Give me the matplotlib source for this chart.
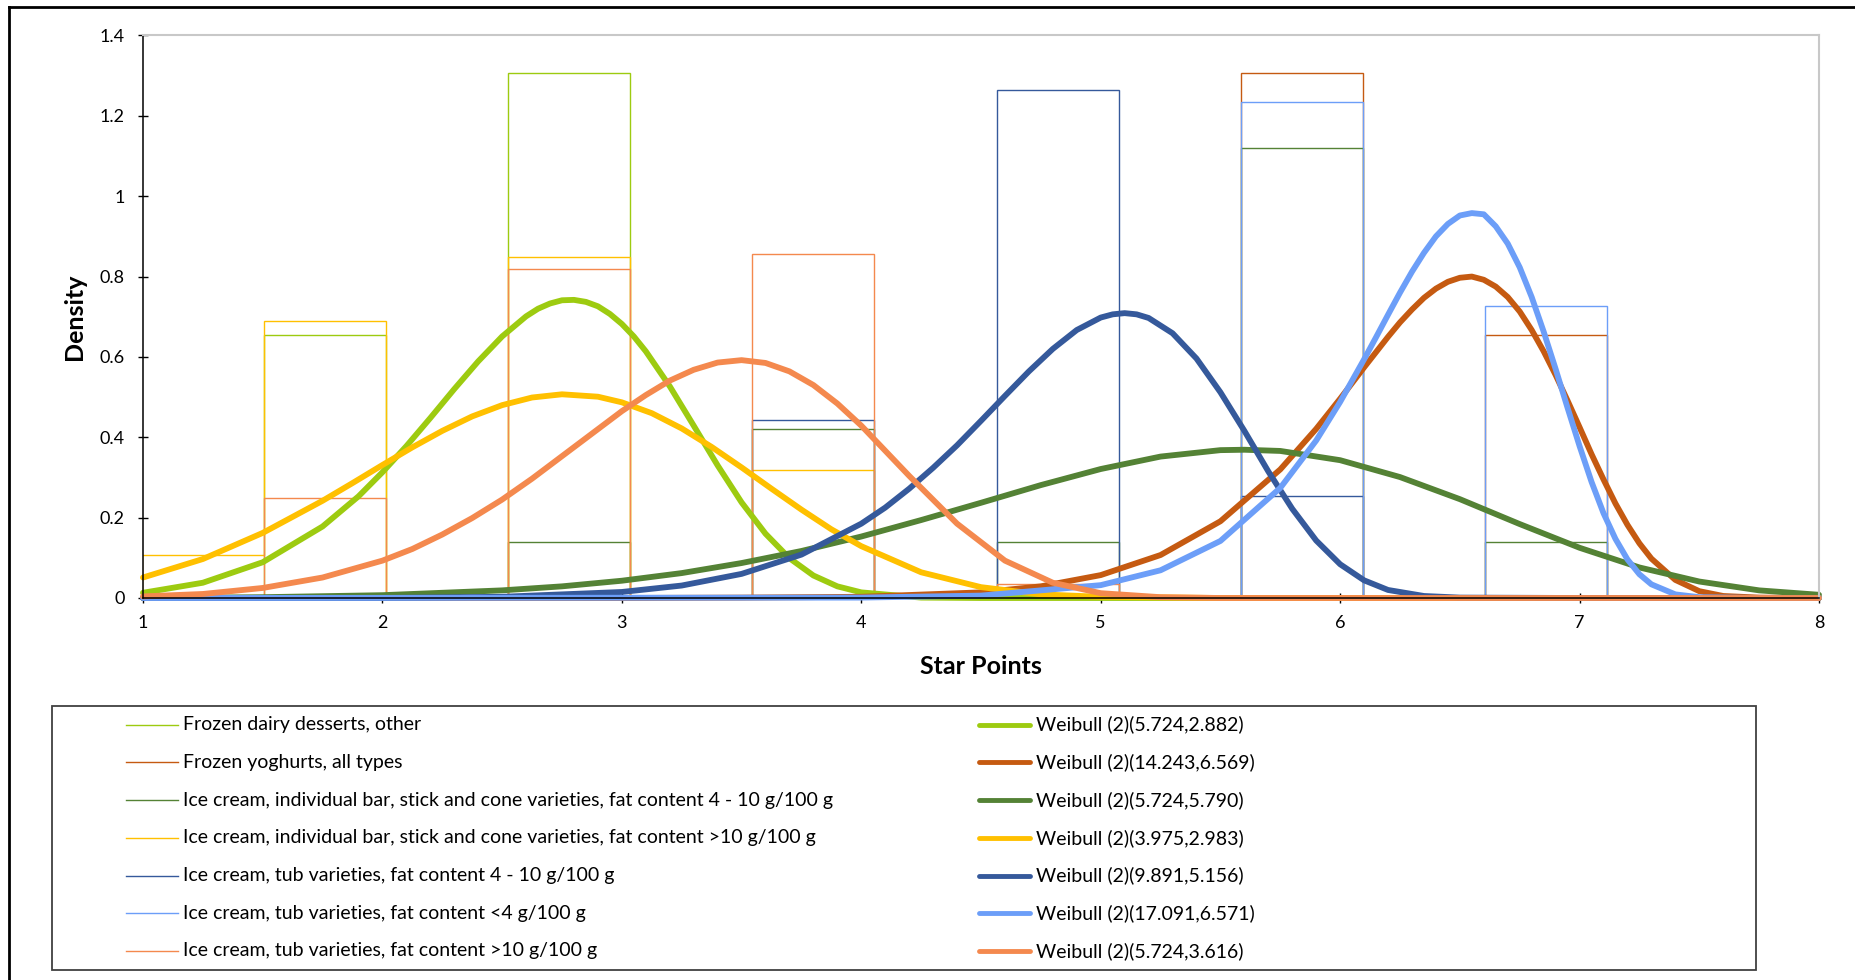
import matplotlib.pyplot as plt
from matplotlib.lines import Line2D
from matplotlib.patches import Rectangle

plt.rcParams['font.family'] = ['Lato', 'DejaVu Sans']

# histogram bins (star points), density per series
bin_edges = [0.995, 1.505, 2.015, 2.525, 3.035, 3.545, 4.055, 4.565, 5.075, 5.585, 6.095, 6.605, 7.115]

names = ['Frozen dairy desserts, other',
         'Frozen yoghurts, all types',
         'Ice cream, individual bar, stick and cone varieties, fat content 4 - 10 g/100 g',
         'Ice cream, individual bar, stick and cone varieties, fat content >10 g/100 g',
         'Ice cream, tub varieties, fat content 4 - 10 g/100 g',
         'Ice cream, tub varieties, fat content <4 g/100 g',
         'Ice cream, tub varieties, fat content >10 g/100 g']

fit_names = ['Weibull (2)(5.724,2.882)',
             'Weibull (2)(14.243,6.569)',
             'Weibull (2)(5.724,5.790)',
             'Weibull (2)(3.975,2.983)',
             'Weibull (2)(9.891,5.156)',
             'Weibull (2)(17.091,6.571)',
             'Weibull (2)(5.724,3.616)']

hist_dairy  = [0, 0.654, 0, 1.307, 0, 0, 0, 0, 0, 0, 0, 0]
hist_yog    = [0, 0, 0, 0, 0, 0, 0, 0, 0, 1.307, 0, 0.654]
hist_bar410 = [0, 0, 0, 0.140, 0, 0.420, 0, 0.140, 0, 1.120, 0, 0.140]
hist_bar10  = [0.106, 0.689, 0, 0.848, 0, 0.318, 0, 0, 0, 0, 0, 0]
hist_tub410 = [0, 0, 0, 0, 0, 0.443, 0, 1.265, 0, 0.253, 0, 0]
hist_tub4   = [0, 0, 0, 0, 0, 0, 0, 0, 0, 1.235, 0, 0.726]
hist_tub10  = [0, 0.250, 0, 0.820, 0, 0.856, 0, 0.036, 0, 0, 0, 0]

# fitted density curves
fx_dairy = [1.0, 1.25, 1.5, 1.75, 1.9, 2.0, 2.1, 2.2, 2.3, 2.4, 2.5, 2.6, 2.65, 2.7, 2.75, 2.8,
            2.85, 2.9, 2.95, 3.0, 3.05, 3.1, 3.2, 3.3, 3.4, 3.5, 3.6, 3.7, 3.8, 3.9, 4.0, 4.25,
            4.5, 5.0, 6.0, 7.0, 8.0]
fy_dairy = [0.013, 0.038, 0.089, 0.178, 0.253, 0.313, 0.378, 0.448, 0.520, 0.589, 0.651, 0.701,
            0.720, 0.733, 0.741, 0.742, 0.737, 0.726, 0.707, 0.682, 0.651, 0.614, 0.527, 0.429,
            0.330, 0.238, 0.160, 0.099, 0.056, 0.029, 0.014, 0.001, 0, 0, 0, 0, 0]

fx_yog = [1.0, 2.0, 3.0, 3.5, 4.0, 4.5, 4.75, 5.0, 5.25, 5.5, 5.75, 5.9, 6.0, 6.1, 6.2, 6.25,
          6.3, 6.35, 6.4, 6.45, 6.5, 6.55, 6.6, 6.65, 6.7, 6.75, 6.8, 6.85, 6.9, 6.95, 7.0,
          7.05, 7.1, 7.15, 7.2, 7.25, 7.3, 7.4, 7.5, 7.6, 7.75, 8.0]
fy_yog = [0, 0, 0, 0.001, 0.003, 0.014, 0.029, 0.057, 0.107, 0.191, 0.320, 0.421, 0.496, 0.574,
          0.650, 0.686, 0.718, 0.747, 0.770, 0.787, 0.797, 0.800, 0.792, 0.775, 0.749, 0.713,
          0.667, 0.614, 0.555, 0.491, 0.425, 0.358, 0.295, 0.235, 0.182, 0.136, 0.098, 0.045,
          0.017, 0.005, 0.001, 0]

fx_bar410 = [1.0, 1.5, 2.0, 2.5, 2.75, 3.0, 3.25, 3.5, 3.75, 4.0, 4.25, 4.5, 4.75, 5.0, 5.25,
             5.5, 5.6, 5.75, 6.0, 6.25, 6.5, 6.75, 7.0, 7.25, 7.5, 7.75, 8.0]
fy_bar410 = [0.000, 0.002, 0.007, 0.019, 0.029, 0.043, 0.062, 0.087, 0.117, 0.153, 0.194, 0.237,
             0.281, 0.321, 0.352, 0.368, 0.369, 0.366, 0.343, 0.301, 0.246, 0.184, 0.125, 0.076,
             0.041, 0.019, 0.008]

fx_bar10 = [1.0, 1.25, 1.5, 1.75, 1.875, 2.0, 2.125, 2.25, 2.375, 2.5, 2.625, 2.75, 2.9, 3.0,
            3.125, 3.25, 3.375, 3.5, 3.625, 3.75, 3.875, 4.0, 4.25, 4.5, 4.75, 5.0, 5.5, 6.0,
            7.0, 8.0]
fy_bar10 = [0.051, 0.097, 0.162, 0.242, 0.286, 0.331, 0.375, 0.416, 0.452, 0.480, 0.499, 0.507,
            0.501, 0.487, 0.460, 0.422, 0.376, 0.325, 0.272, 0.220, 0.171, 0.129, 0.064, 0.027,
            0.009, 0.003, 0, 0, 0, 0]

fx_tub410 = [1.0, 2.0, 2.5, 3.0, 3.25, 3.5, 3.75, 4.0, 4.1, 4.2, 4.3, 4.4, 4.5, 4.6, 4.7, 4.8,
             4.9, 5.0, 5.05, 5.1, 5.15, 5.2, 5.3, 5.4, 5.5, 5.6, 5.7, 5.8, 5.9, 6.0, 6.1, 6.2,
             6.35, 6.5, 7.0, 8.0]
fy_tub410 = [0, 0, 0.003, 0.015, 0.031, 0.060, 0.108, 0.185, 0.225, 0.272, 0.324, 0.380, 0.441,
             0.503, 0.564, 0.620, 0.667, 0.698, 0.706, 0.709, 0.706, 0.697, 0.659, 0.596, 0.512,
             0.416, 0.315, 0.222, 0.143, 0.084, 0.044, 0.020, 0.005, 0.001, 0, 0]

fx_tub4 = [1.0, 4.0, 4.5, 5.0, 5.25, 5.5, 5.75, 5.9, 6.0, 6.1, 6.15, 6.2, 6.25, 6.3, 6.35, 6.4,
           6.45, 6.5, 6.55, 6.6, 6.65, 6.7, 6.75, 6.8, 6.85, 6.9, 6.95, 7.0, 7.05, 7.1, 7.15,
           7.2, 7.25, 7.3, 7.4, 7.5, 7.75, 8.0]
fy_tub4 = [0, 0.001, 0.006, 0.032, 0.069, 0.142, 0.274, 0.392, 0.488, 0.594, 0.649, 0.705, 0.760,
           0.812, 0.859, 0.900, 0.931, 0.952, 0.958, 0.955, 0.925, 0.882, 0.823, 0.749, 0.663,
           0.570, 0.473, 0.378, 0.289, 0.211, 0.147, 0.096, 0.059, 0.034, 0.009, 0.002, 0, 0]

fx_tub10 = [1.0, 1.25, 1.5, 1.75, 2.0, 2.125, 2.25, 2.375, 2.5, 2.625, 2.75, 2.875, 3.0, 3.1,
            3.2, 3.3, 3.4, 3.5, 3.6, 3.7, 3.8, 3.9, 4.0, 4.2, 4.4, 4.6, 4.8, 5.0, 5.25, 5.5,
            6.0, 7.0, 8.0]
fy_tub10 = [0.004, 0.010, 0.025, 0.051, 0.093, 0.122, 0.158, 0.199, 0.245, 0.297, 0.353, 0.409,
            0.465, 0.505, 0.541, 0.568, 0.586, 0.592, 0.585, 0.564, 0.530, 0.484, 0.429, 0.304,
            0.185, 0.093, 0.038, 0.012, 0.002, 0, 0, 0, 0]

x_ticks = [1, 2, 3, 4, 5, 6, 7, 8]
y_ticks = [0, 0.2, 0.4, 0.6, 0.8, 1.0, 1.2, 1.4]
y_tick_labels = ['0', '0.2', '0.4', '0.6', '0.8', '1', '1.2', '1.4']

colors = ['#9DCB10', '#C55A11', '#548235', '#FFC000', '#35599B', '#6C9EF8', '#F4894E']

hists = [hist_dairy, hist_yog, hist_bar410, hist_bar10, hist_tub410, hist_tub4, hist_tub10]
curves = [(fx_dairy, fy_dairy), (fx_yog, fy_yog), (fx_bar410, fy_bar410), (fx_bar10, fy_bar10),
          (fx_tub410, fy_tub410), (fx_tub4, fy_tub4), (fx_tub10, fy_tub10)]

W, H = 1856, 980
fig = plt.figure(figsize=(W / 100, H / 100), dpi=100)
ax = fig.add_axes([143 / W, 1 - 598 / H, (1819 - 143) / W, (598 - 35.5) / H])

for h, c in zip(hists, colors):
    ax.stairs(h, bin_edges, baseline=0, color=c, lw=1.0, fill=False)

for (xs, ys), c in zip(curves, colors):
    ax.plot(xs, ys, color=c, lw=4.2, solid_capstyle='round', solid_joinstyle='round',
            clip_on=False)

ax.set_xlim(1, 8)
ax.set_ylim(0, 1.4)
ax.set_xticks(x_ticks)
ax.set_yticks(y_ticks)
ax.set_yticklabels(y_tick_labels)
ax.tick_params(direction='inout', length=6.5, width=1.0, labelsize=13, color='black')
ax.tick_params(axis='y', pad=10)
ax.tick_params(axis='x', pad=9)

for s in ['top', 'right']:
    ax.spines[s].set_color('#C8C8C8')
    ax.spines[s].set_linewidth(1.5)
for s in ['left', 'bottom']:
    ax.spines[s].set_color('black')
    ax.spines[s].set_linewidth(1.1)

ax.set_xlabel('Star Points', fontsize=18, fontweight='bold', va='center')
ax.xaxis.set_label_coords(0.5, -0.121)
ax.set_ylabel('Density', fontsize=18, fontweight='bold', va='center')
ax.yaxis.set_label_coords(-0.0406, 0.5)

# outer frame (only top and left visible)
fig.add_artist(Line2D([9 / W, 1], [1 - 7 / H, 1 - 7 / H], color='black', lw=2, transform=fig.transFigure))
fig.add_artist(Line2D([9 / W, 9 / W], [0, 1 - 7 / H], color='black', lw=2, transform=fig.transFigure))

# legend box drawn by hand, two columns
fig.add_artist(Rectangle((52 / W, 1 - 970 / H), (1756 - 52) / W, (970 - 706) / H,
                         fill=False, ec='#404040', lw=1.3, transform=fig.transFigure))
for i in range(7):
    yy = 1 - (724.7 + 37.7 * i) / H
    fig.add_artist(Line2D([126 / W, 178 / W], [yy, yy], color=colors[i], lw=1.0,
                          transform=fig.transFigure))
    fig.text(183 / W, yy, names[i], fontsize=14, va='center', ha='left')
    fig.add_artist(Line2D([979 / W, 1030 / W], [yy, yy], color=colors[i], lw=3.5,
                          solid_capstyle='round', transform=fig.transFigure))
    fig.text(1036 / W, yy, fit_names[i], fontsize=14, va='center', ha='left')

fig.savefig('out.png', dpi=100)
